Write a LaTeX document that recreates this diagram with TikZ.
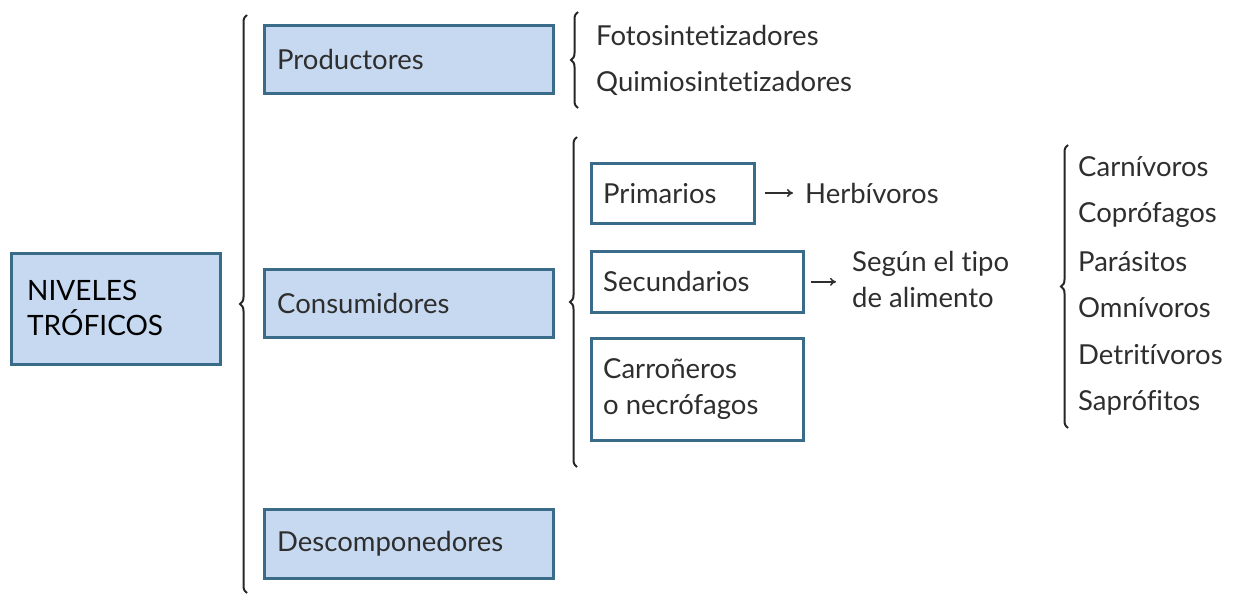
\documentclass[tikz,border=0pt]{standalone}
\usepackage{fontspec}
\setmainfont{Lato}[RawFeature={-liga;-calt;-dlig;-clig}]
\usetikzlibrary{decorations.pathreplacing,arrows.meta}
\definecolor{boxfill}{HTML}{C6D9F0}
\definecolor{boxline}{HTML}{3A6B88}
\definecolor{txt}{HTML}{2E2E2E}
\tikzset{
  bluebox/.style={draw=boxline,line width=2.6pt,fill=boxfill,inner sep=0pt,anchor=north west},
  whitebox/.style={draw=boxline,line width=2.6pt,fill=white,inner sep=0pt,anchor=north west},
  label/.style={text=txt,font=\fontsize{27.5}{36}\selectfont,anchor=west,inner sep=0pt,align=left},
  title/.style={text=black,font=\fontsize{28}{35}\selectfont,anchor=west,inner sep=0pt,align=left},
  brc/.style={decorate,decoration={brace,amplitude=7pt},line width=2pt,draw=black!85},
  arr/.style={-{To[length=6pt,width=8pt]},line width=1.5pt,draw=txt}
}
\begin{document}
\begin{tikzpicture}[x=1pt,y=-1pt]
\useasboundingbox (0,0) rectangle (1238,595);
% boxes
\node[bluebox,minimum width=209pt,minimum height=111pt] (nt) at (10,252) {};
\node[title] at ([xshift=17pt,yshift=1pt]nt.west) {NIVELES\\TRÓFICOS};
\node[bluebox,minimum width=289pt,minimum height=68pt] (prod) at (263,24) {};
\node[label] at ([xshift=14pt]prod.west) {Productores};
\node[bluebox,minimum width=289pt,minimum height=68pt] (cons) at (263,268) {};
\node[label] at ([xshift=14pt]cons.west) {Consumidores};
\node[bluebox,minimum width=289pt,minimum height=69pt] (desc) at (263,508) {};
\node[label] at ([xshift=14pt]desc.west) {Descomponedores};
% producers sub
\node[label] (foto) at (596,35) {Fotosintetizadores};
\node[label] (quim) at (596,83) {Quimiosintetizadores};
% consumers sub
\node[whitebox,minimum width=163pt,minimum height=60pt] (prim) at (590,162) {};
\node[label] at ([xshift=13pt]prim.west) {Primarios};
\node[whitebox,minimum width=212pt,minimum height=61pt] (sec) at (590,250) {};
\node[label] at ([xshift=13pt]sec.west) {Secundarios};
\node[whitebox,minimum width=212pt,minimum height=102pt] (carr) at (590,337) {};
\node[label] at ([xshift=13pt]carr.west) {Carroñeros\\o necrófagos};
\node[label] (herb) at (805,193) {Herbívoros};
\node[label] (seg) at (852,279) {Según el tipo\\de alimento};
% list
\node[label] (l1) at (1078,167) {Carnívoros};
\node[label] (l2) at (1078,215) {Coprófagos};
\node[label] (l3) at (1078,262) {Parásitos};
\node[label] (l4) at (1078,308) {Omnívoros};
\node[label] (l5) at (1078,355) {Detritívoros};
\node[label] (l6) at (1078,403) {Saprófitos};
% braces
\coordinate (b1a) at (247,593); \coordinate (b1b) at (247,15);
\draw[brc] (b1a) -- (b1b);
\coordinate (b2a) at (578,108); \coordinate (b2b) at (578,12);
\draw[brc] (b2a) -- (b2b);
\coordinate (b3a) at (577,467); \coordinate (b3b) at (577,137);
\draw[brc] (b3a) -- (b3b);
\coordinate (b4a) at (1068,428); \coordinate (b4b) at (1068,145);
\draw[brc] (b4a) -- (b4b);
% arrows
\draw[arr,shorten <=9pt,shorten >=12pt] (prim.east |- herb.west) -- (herb.west);
\draw[arr,shorten <=6pt,shorten >=16pt] (sec.east) -- (sec.east -| seg.west);
\end{tikzpicture}
\end{document}
